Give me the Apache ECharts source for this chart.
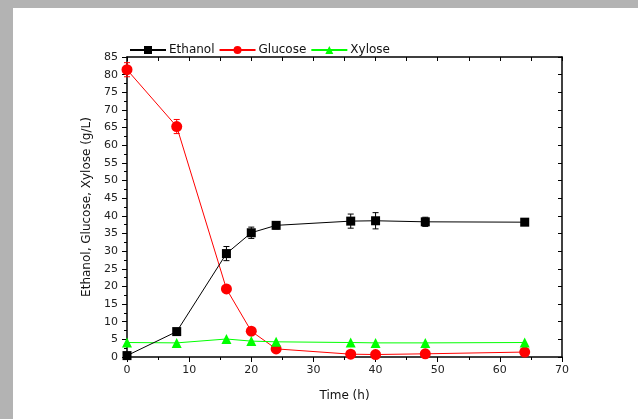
<!DOCTYPE html>
<html><head><meta charset="utf-8">
<script src="https://cdn.jsdelivr.net/npm/echarts@6/dist/echarts.min.js"></script>
<style>
html,body{margin:0;padding:0;background:#b3b3b3;}
#wrap{position:relative;width:638px;height:419px;overflow:hidden;}
#panel{position:absolute;left:13px;top:8px;width:625px;height:411px;background:#fff;}
#chart{position:absolute;left:0;top:0;width:638px;height:419px;}
</style></head>
<body><div id="wrap"><div id="panel"></div><div id="chart"></div></div>
<script>
var timeH = [0, 8, 16, 20, 24, 36, 40, 48, 64];
var ethanol = [0.4, 7.2, 29.3, 35.2, 37.3, 38.5, 38.6, 38.3, 38.2];
var ethanolErr = [0, 0, 2.0, 1.6, 1.0, 2.0, 2.3, 1.3, 0.5];
var glucose = [81.4, 65.3, 19.3, 7.3, 2.3, 0.8, 0.7, 0.9, 1.4];
var glucoseErr = [2.0, 2.0, 0, 0, 0, 0, 0, 0, 0];
var xylose = [4.1, 4.0, 5.1, 4.5, 4.3, 4.1, 4.0, 4.0, 4.1];
var xyloseErr = [0, 0, 0, 0, 0, 0, 0, 0, 0];

function pts(v){ return timeH.map(function(t,i){ return [t, v[i]]; }); }
function errData(v, e){ return timeH.map(function(t,i){ return [t, v[i]-e[i], v[i]+e[i]]; }).filter(function(d){ return d[2]-d[1] > 0; }); }
function errSeries(v, e, color){
  return {
    type:'custom', xAxisIndex:0, yAxisIndex:0, z:1, silent:true,
    data: errData(v,e),
    renderItem: function(params, api){
      var lo = api.coord([api.value(0), api.value(1)]);
      var hi = api.coord([api.value(0), api.value(2)]);
      var w = 3;
      return {type:'group', children:[
        {type:'line', shape:{x1:lo[0],y1:lo[1],x2:hi[0],y2:hi[1]}, style:{stroke:color,lineWidth:1}},
        {type:'line', shape:{x1:lo[0]-w,y1:lo[1],x2:lo[0]+w,y2:lo[1]}, style:{stroke:color,lineWidth:1}},
        {type:'line', shape:{x1:hi[0]-w,y1:hi[1],x2:hi[0]+w,y2:hi[1]}, style:{stroke:color,lineWidth:1}}
      ]};
    }
  };
}
var font = 'DejaVu Sans';
var chart = echarts.init(document.getElementById('chart'));
chart.setOption({
  backgroundColor:'transparent',
  animation:false,
  grid:{left:127, right:76, top:57, bottom:62},
  legend:{
    left:124, top:39, itemGap:4, itemWidth:36, itemHeight:10,
    textStyle:{fontFamily:font, fontSize:12, color:'#111', padding:[0,0,0,-2]},
    data:['Ethanol','Glucose','Xylose']
  },
  xAxis:[{
    type:'value', min:0, max:70, interval:10, position:'bottom',
    name:'Time (h)', nameLocation:'middle', nameGap:33,
    nameTextStyle:{fontFamily:font, fontSize:12, color:'#111'},
    axisLine:{onZero:false, lineStyle:{color:'#000', width:1.5}},
    axisTick:{show:true, length:5, lineStyle:{color:'#000'}},
    minorTick:{show:true, splitNumber:2, length:3, lineStyle:{color:'#000'}},
    axisLabel:{fontFamily:font, fontSize:11, color:'#222', margin:8},
    splitLine:{show:false}
  },{
    type:'value', min:0, max:70, interval:5, position:'top',
    axisLine:{onZero:false, lineStyle:{color:'#000', width:1.5}},
    axisTick:{show:true, inside:true, length:4, lineStyle:{color:'#000'}},
    axisLabel:{show:false}, splitLine:{show:false}
  }],
  yAxis:[{
    type:'value', min:0, max:85, interval:5, position:'left',
    name:'Ethanol, Glucose, Xylose (g/L)', nameLocation:'middle', nameGap:31,
    nameTextStyle:{fontFamily:font, fontSize:12, color:'#111'},
    axisLine:{onZero:false, lineStyle:{color:'#000', width:1.5}},
    axisTick:{show:true, length:5, lineStyle:{color:'#000'}},
    minorTick:{show:true, splitNumber:2, length:3, lineStyle:{color:'#000'}},
    axisLabel:{fontFamily:font, fontSize:11, color:'#222', margin:9},
    splitLine:{show:false}
  },{
    type:'value', min:0, max:85, interval:5, position:'right',
    axisLine:{onZero:false, lineStyle:{color:'#000', width:1.5}},
    axisTick:{show:true, inside:true, length:4, lineStyle:{color:'#000'}},
    axisLabel:{show:false}, splitLine:{show:false}
  }],
  series:[
    errSeries(ethanol, ethanolErr, '#000'),
    errSeries(glucose, glucoseErr, '#ff0000'),
    {name:'Ethanol', type:'line', data:pts(ethanol), symbol:'rect', symbolSize:9, z:3,
     lineStyle:{color:'#000', width:1}, itemStyle:{color:'#000'}},
    {name:'Glucose', type:'line', data:pts(glucose), symbol:'circle', symbolSize:11, z:2,
     lineStyle:{color:'#ff0000', width:1}, itemStyle:{color:'#ff0000'}},
    {name:'Xylose', type:'line', data:pts(xylose), symbol:'triangle', symbolSize:10, z:2,
     lineStyle:{color:'#00ff00', width:1}, itemStyle:{color:'#00ff00'}}
  ]
});
</script></body></html>
